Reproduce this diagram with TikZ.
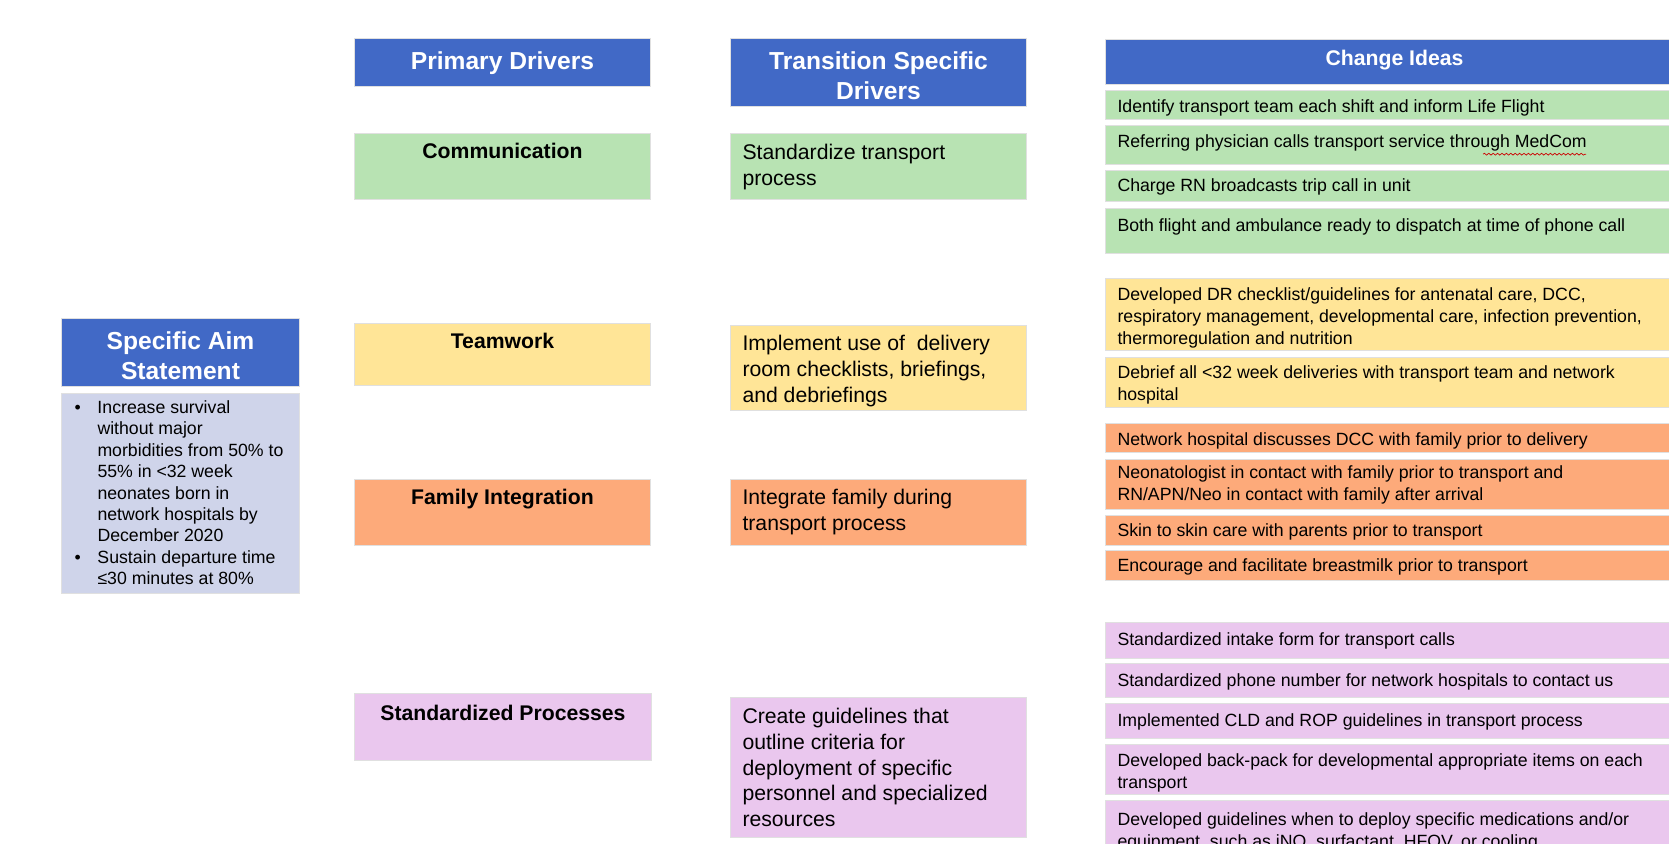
\documentclass[tikz,border=0pt]{standalone}
\usepackage{fontspec}
\setmainfont{Liberation Sans}
\usetikzlibrary{decorations.pathmorphing}
\definecolor{hdrblue}{HTML}{4169C6}
\definecolor{cgreen}{HTML}{B8E3B3}
\definecolor{cyellow}{HTML}{FFE597}
\definecolor{corange}{HTML}{FDAA7A}
\definecolor{cpurple}{HTML}{EAC7EE}
\definecolor{caim}{HTML}{CFD4EA}
\tikzset{
  cellbase/.style={anchor=north west, inner sep=0pt, draw=black!12, line width=0.5pt},
  hdr/.style={cellbase, fill=hdrblue, text=white, font=\fontsize{12.3}{14.9}\selectfont\bfseries},
  hdrsmall/.style={cellbase, fill=hdrblue, text=white, font=\fontsize{10.6}{12.9}\selectfont\bfseries},
  prim/.style={cellbase, font=\fontsize{10.6}{12.9}\selectfont\bfseries},
  trans/.style={cellbase, font=\fontsize{10.6}{12.9}\selectfont},
  idea/.style={cellbase, font=\fontsize{8.85}{10.9}\selectfont},
  aimbody/.style={cellbase, fill=caim, font=\fontsize{8.85}{10.7}\selectfont},
  gr/.style={fill=cgreen}, ye/.style={fill=cyellow}, orr/.style={fill=corange}, pu/.style={fill=cpurple},
  spell/.style={red!80!black, line width=0.35pt, decorate, decoration={snake, amplitude=0.45pt, segment length=2.2pt}}
}
% #1 style, #2 name, #3 x, #4 y, #5 w, #6 h (px), #7 text, #8 downward shift (px) : centred both ways
\newcommand{\midcell}[8]{%
  \node[#1] (#2) at (#3,#4)
  {\parbox[c][\dimexpr.5pt*#6\relax][c]{\dimexpr.5pt*#5\relax}{\vspace*{\dimexpr1pt*#8\relax}\centering #7\par}};}
% #1 style, #2 name, #3 x, #4 y, #5 w, #6 h, #7 padx, #8 pady (px), #9 text : top aligned
\newcommand{\topcell}[9]{%
  \node[#1] (#2) at (#3,#4)
  {\parbox[c][\dimexpr.5pt*#6\relax][t]{\dimexpr.5pt*#5\relax}{\vspace*{\dimexpr.5pt*#8\relax}\hspace*{\dimexpr.5pt*#7\relax}\parbox[t]{\dimexpr.5pt*#5-1pt*#7\relax}{\raggedright\strut #9\par}}};}
\newcommand{\aimitem}{\hangindent=11.5pt\hangafter=1\noindent\makebox[11.5pt][l]{\textbullet}}
\begin{document}
\begin{tikzpicture}[x=0.5pt,y=-0.5pt]
\useasboundingbox (0,0) rectangle (1669,844);
\clip (0,0) rectangle (1669,844);
\fill[white] (0,0) rectangle (1669,844);
% headers
\midcell{hdr}{hprim}{354}{38}{296}{48}{Primary Drivers}{1}
\midcell{hdr}{htrans}{730}{38}{296}{68}{Transition Specific\\Drivers}{3}
\topcell{hdrsmall}{hideas}{1105}{39}{578}{45}{12}{8}{\centering Change Ideas}
\midcell{hdr}{haim}{61}{318}{238}{68}{Specific Aim\\Statement}{3}
% aim body
\topcell{aimbody}{aim}{61}{393}{238}{200}{13}{5}{\aimitem Increase survival\newline without major\newline morbidities from 50\% to\newline 55\% in <32 week\newline neonates born in\newline network hospitals by\newline December 2020\par
\aimitem Sustain departure time\newline ≤30 minutes at 80\%}
% primary drivers
\topcell{prim,gr}{pcomm}{354}{133}{296}{66}{12}{7}{\centering Communication}
\topcell{prim,ye}{pteam}{354}{323}{296}{62}{12}{7}{\centering Teamwork}
\topcell{prim,orr}{pfam}{354}{479}{296}{66}{12}{7}{\centering Family Integration}
\topcell{prim,pu}{pstd}{354}{693}{297}{67}{12}{9}{\centering Standardized Processes}
% transition specific drivers
\topcell{trans,gr}{tcomm}{730}{133}{296}{66}{12}{8}{Standardize transport\\process}
\topcell{trans,ye}{tteam}{730}{325}{296}{85}{12}{7}{Implement use of\ \ delivery\\room checklists, briefings,\\and debriefings}
\topcell{trans,orr}{tfam}{730}{479}{296}{66}{12}{7}{Integrate family during\\transport process}
\topcell{trans,pu}{tstd}{730}{697}{296}{140}{12}{8}{Create guidelines that\\outline criteria for\\deployment of specific\\personnel and specialized\\resources}
% change ideas
\topcell{idea,gr}{ci1}{1105}{90}{578}{29}{12}{7}{Identify transport team each shift and inform Life Flight}
\topcell{idea,gr}{ci2}{1105}{125}{578}{39}{12}{7}{Referring physician calls transport service through MedCom}
\topcell{idea,gr}{ci3}{1105}{170}{578}{31}{12}{6}{Charge RN broadcasts trip call in unit}
\topcell{idea,gr}{ci4}{1105}{208}{578}{45}{12}{8}{Both flight and ambulance ready to dispatch at time of phone call}
\topcell{idea,ye}{ci5}{1105}{278}{578}{72}{12}{7}{Developed DR checklist/guidelines for antenatal care, DCC,\\respiratory management, developmental care, infection prevention,\\thermoregulation and nutrition}
\topcell{idea,ye}{ci6}{1105}{357}{578}{50}{12}{6}{Debrief all <32 week deliveries with transport team and network\\hospital}
\topcell{idea,orr}{ci7}{1105}{423}{578}{29}{12}{7}{Network hospital discusses DCC with family prior to delivery}
\topcell{idea,orr}{ci8}{1105}{459}{578}{50}{12}{4}{Neonatologist in contact with family prior to transport and\\RN/APN/Neo in contact with family after arrival}
\topcell{idea,orr}{ci9}{1105}{515}{578}{30}{12}{6}{Skin to skin care with parents prior to transport}
\topcell{idea,orr}{ci10}{1105}{550}{578}{30}{12}{6}{Encourage and facilitate breastmilk prior to transport}
\topcell{idea,pu}{ci11}{1105}{622}{578}{36}{12}{8}{Standardized intake form for transport calls}
\topcell{idea,pu}{ci12}{1105}{663}{578}{34}{12}{8}{Standardized phone number for network hospitals to contact us}
\topcell{idea,pu}{ci13}{1105}{703}{578}{35}{12}{8}{Implemented CLD and ROP guidelines in transport process}
\topcell{idea,pu}{ci14}{1105}{744}{578}{50}{12}{7}{Developed back-pack for developmental appropriate items on each\\transport}
\topcell{idea,pu}{ci15}{1105}{800}{578}{60}{12}{10}{Developed guidelines when to deploy specific medications and/or\\equipment, such as iNO, surfactant, HFOV, or cooling}
% spell-check underline under "MedCom"
\draw[spell] ([xshift=189pt,yshift=-14.6pt]ci2.north west) -- ([xshift=240.5pt,yshift=-14.6pt]ci2.north west);
\end{tikzpicture}
\end{document}
